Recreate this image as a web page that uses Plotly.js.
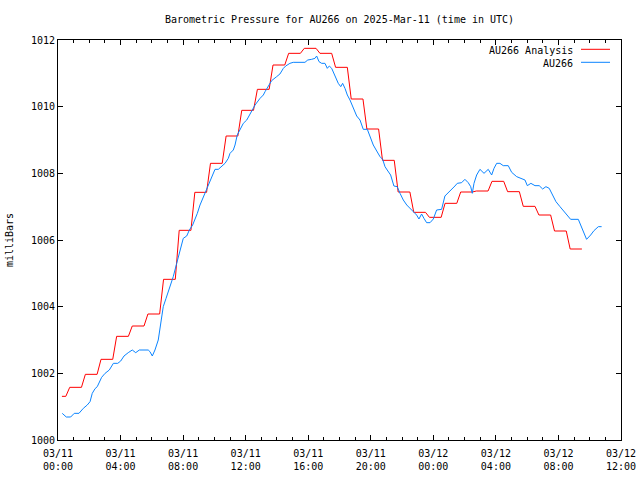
<!DOCTYPE html>
<html>
<head>
<meta charset="utf-8">
<script src="https://cdn.plot.ly/plotly-3.0.1.min.js"></script>
<style>html,body{margin:0;padding:0;background:#fff;}#chart{width:640px;height:480px;}</style>
</head>
<body>
<div id="chart"></div>
<script>
// ---- data (hours after 2025-03-11 00:00 UTC, pressure in mbar) ----
var startDate = "2025-03-11T00:00:00Z";
var xTickLabelsFormat = "%m/%d<br>%H:%M";

// hourly analysis values (hour index 0..33)
var analysisHours = [0,1,2,3,4,5,6,7,8,9,10,11,12,13,14,15,16,17,18,19,20,21,22,23,24,25,26,27,28,29,30,31,32,33];
var analysisPressure = [1001.31,1001.58,1001.97,1002.42,1003.11,1003.42,1003.78,1004.82,1006.29,1007.43,
  1008.30,1009.12,1009.89,1010.52,1011.25,1011.60,1011.75,1011.60,1011.18,1010.23,
  1009.33,1008.39,1007.44,1006.83,1006.68,1007.10,1007.44,1007.47,1007.76,1007.45,
  1007.01,1006.75,1006.27,1005.73];

// observed station values
var auHours = [0.27,0.53,0.81,1.04,1.34,1.62,1.87,2.05,2.19,2.37,2.51,2.79,3.01,3.28,3.54,3.82,4.01,4.22,4.49,4.75,
  4.97,5.20,5.77,5.88,6.03,6.20,6.41,6.59,6.73,6.91,7.16,7.37,7.59,7.76,7.91,8.01,8.23,8.40,8.61,8.76,
  8.91,9.08,9.25,9.42,9.57,9.72,9.89,10.04,10.25,10.47,10.68,10.89,11.00,11.21,11.32,11.46,11.64,11.85,12.07,12.39,
  12.60,12.92,13.13,13.24,13.45,13.66,13.98,14.19,14.41,14.56,14.83,15.04,15.79,15.97,16.22,16.43,16.54,16.69,16.86,17.07,
  17.22,17.35,17.50,17.71,17.92,18.08,18.20,18.35,18.50,18.67,18.88,19.10,19.31,19.52,19.78,19.95,20.16,20.38,20.59,20.76,
  20.91,21.05,21.27,21.48,21.69,21.87,22.08,22.30,22.51,22.76,22.93,23.08,23.25,23.40,23.57,23.79,24.00,24.21,24.53,24.74,
  24.96,25.17,25.38,25.53,25.81,26.02,26.23,26.39,26.49,26.60,26.77,26.98,27.24,27.51,27.73,27.88,28.05,28.26,28.47,28.79,
  29.01,29.33,29.65,29.86,30.01,30.24,30.50,30.77,30.99,31.20,31.41,31.63,31.84,32.10,32.35,32.56,32.78,33.27,33.48,33.63,
  33.80,34.06,34.27,34.55,34.76];
var auPressure = [1000.80,1000.69,1000.69,1000.80,1000.80,1000.95,1001.05,1001.15,1001.40,1001.54,1001.60,1001.88,1002.00,1002.10,1002.30,1002.30,1002.37,1002.52,1002.62,1002.70,
  1002.62,1002.70,1002.70,1002.65,1002.52,1002.70,1003.00,1003.50,1004.00,1004.25,1004.60,1004.90,1005.30,1005.60,1005.85,1006.05,1006.12,1006.30,1006.45,1006.60,
  1006.80,1007.05,1007.25,1007.43,1007.60,1007.80,1008.00,1008.12,1008.12,1008.20,1008.30,1008.45,1008.60,1008.70,1008.85,1009.15,1009.30,1009.50,1009.60,1009.90,
  1010.05,1010.25,1010.35,1010.45,1010.60,1010.78,1010.90,1010.98,1011.15,1011.22,1011.30,1011.33,1011.33,1011.40,1011.42,1011.45,1011.52,1011.35,1011.30,1011.30,
  1011.15,1011.22,1011.15,1010.95,1010.70,1010.60,1010.70,1010.55,1010.35,1010.20,1009.98,1009.72,1009.60,1009.32,1009.32,1009.10,1008.85,1008.67,1008.50,1008.42,
  1008.20,1008.10,1007.95,1007.62,1007.60,1007.40,1007.20,1007.05,1006.95,1006.83,1006.75,1006.63,1006.78,1006.65,1006.52,1006.52,1006.63,1006.90,1006.92,1007.32,
  1007.42,1007.50,1007.62,1007.70,1007.72,1007.82,1007.72,1007.60,1007.40,1007.70,1007.95,1008.12,1008.00,1008.12,1007.95,1008.15,1008.30,1008.30,1008.23,1008.23,
  1008.03,1007.90,1007.83,1007.80,1007.63,1007.70,1007.63,1007.63,1007.53,1007.60,1007.55,1007.35,1007.15,1007.00,1006.87,1006.75,1006.62,1006.62,1006.40,1006.20,
  1006.02,1006.15,1006.28,1006.40,1006.40];

var seriesNames = ["AU266 Analysis", "AU266"];
var seriesColors = ["#ff0000", "#0a84ff"];

// ---- build traces ----
var t0 = Date.parse(startDate);
function toDate(h) {
  return new Date(t0 + Math.round(h * 3600000)).toISOString().replace("T", " ").replace("Z", "");
}
// analysis: each hourly value holds for the 15-minute samples around its hour
var ax = [], ay = [];
for (var i = 0; i < analysisHours.length; i++) {
  var h = analysisHours[i];
  var s = (i === 0) ? h + 0.25 : h - 0.25;
  ax.push(toDate(s)); ay.push(analysisPressure[i]);
  ax.push(toDate(h + 0.5)); ay.push(analysisPressure[i]);
}
var bx = auHours.map(toDate);

var font = {family: "DejaVu Sans Mono, monospace", size: 10, color: "#000"};

var traces = [
  {x: ax, y: ay, type: "scatter", mode: "lines", name: seriesNames[0],
   line: {color: seriesColors[0], width: 1}, showlegend: false},
  {x: bx, y: auPressure, type: "scatter", mode: "lines", name: seriesNames[1],
   line: {color: seriesColors[1], width: 1}, showlegend: false}
];

var L = 58, R = 19, T = 40, B = 40, W = 640, H = 480;
var pw = W - L - R, ph = H - T - B;
function px2x(p) { return (p - L) / pw; }
function px2y(p) { return (H - B - p) / ph; }

var layout = {
  width: W, height: H,
  margin: {l: L, r: R, t: T, b: B},
  paper_bgcolor: "#fff", plot_bgcolor: "#fff",
  font: font,
  title: {text: "Barometric Pressure for AU266 on 2025-Mar-11 (time in UTC)",
          font: font, x: 0.5, xref: "paper", xanchor: "center",
          y: 1 - 19 / H, yref: "container", yanchor: "middle"},
  xaxis: {
    type: "date",
    range: [toDate(0), toDate(36)],
    dtick: 4 * 3600000, tick0: toDate(0),
    tickformat: xTickLabelsFormat,
    ticks: "inside", ticklen: 5, tickcolor: "#000", tickwidth: 1,
    ticklabelstandoff: 4,
    minor: {dtick: 3600000, ticks: "inside", ticklen: 3, tickcolor: "#000", tickwidth: 1, showgrid: false},
    showgrid: false, zeroline: false,
    showline: true, linecolor: "#000", linewidth: 1, mirror: "allticks",
    tickfont: font, fixedrange: true
  },
  yaxis: {
    range: [1000, 1012], dtick: 2, tick0: 1000,
    ticks: "inside", ticklen: 5, tickcolor: "#000", tickwidth: 1,
    showgrid: false, zeroline: false,
    showline: true, linecolor: "#000", linewidth: 1, mirror: "allticks",
    tickfont: font,
    title: {text: "milliBars", font: font, standoff: 15},
    fixedrange: true
  },
  annotations: [
    {text: seriesNames[0], xref: "paper", yref: "paper", x: px2x(575), y: px2y(50),
     xanchor: "right", yanchor: "middle", showarrow: false, font: font},
    {text: seriesNames[1], xref: "paper", yref: "paper", x: px2x(575), y: px2y(63),
     xanchor: "right", yanchor: "middle", showarrow: false, font: font}
  ],
  shapes: [
    {type: "line", xref: "paper", yref: "paper", x0: px2x(581), x1: px2x(610), y0: px2y(49.3), y1: px2y(49.3),
     line: {color: seriesColors[0], width: 1}},
    {type: "line", xref: "paper", yref: "paper", x0: px2x(581), x1: px2x(610), y0: px2y(62.3), y1: px2y(62.3),
     line: {color: seriesColors[1], width: 1}}
  ]
};

Plotly.newPlot("chart", traces, layout, {staticPlot: true, displayModeBar: false});
</script>
</body>
</html>
